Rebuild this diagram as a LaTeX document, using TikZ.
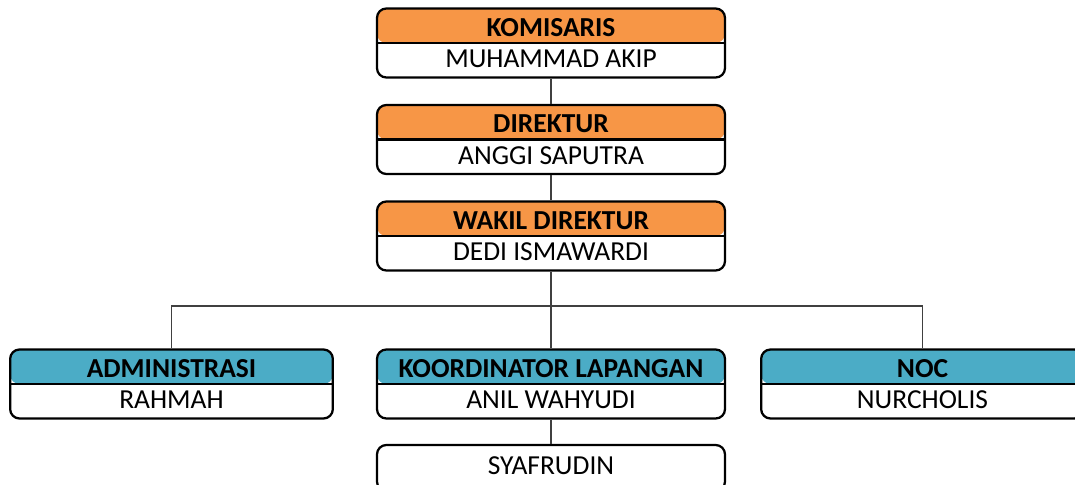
\documentclass[tikz,border=0pt]{standalone}
\usepackage{fontspec}
\setmainfont{Carlito}
\usepackage{tikz}
\definecolor{headorange}{HTML}{F79646}
\definecolor{headblue}{HTML}{4BACC6}
\tikzset{
  unit/.style={draw=black, line width=1.7pt, rounded corners=7pt, fill=white,
    inner sep=0pt, minimum height=51.75pt,
    path picture={\fill[#1] (path picture bounding box.north west) rectangle (path picture bounding box.east);
      \draw[line width=1.7pt] (path picture bounding box.west) -- (path picture bounding box.east);}},
  plain/.style={draw=black, line width=1.7pt, rounded corners=7pt, fill=white,
    inner sep=0pt, minimum height=34.5pt},
  wide/.style={minimum width=261pt},
  narrow/.style={minimum width=242pt},
  title/.style={anchor=base, font=\fontsize{20.6}{22}\selectfont\bfseries},
  person/.style={anchor=base, font=\fontsize{20.6}{22}\selectfont},
  link/.style={draw=black!75, line width=0.9pt}
}

\begin{document}
\begin{tikzpicture}[x=0.75pt,y=-0.75pt]
\useasboundingbox (0,0) rectangle (1075,485);

% boxes
\node[unit=headorange, wide] (kom) at (551,43) {};
\node[unit=headorange, wide] (dir) at (551,139.5) {};
\node[unit=headorange, wide] (wak) at (551,236) {};
\node[unit=headblue, narrow] (adm) at (171.5,384) {};
\node[unit=headblue, wide] (kor) at (551,384) {};
\node[unit=headblue, narrow] (noc) at (922.5,384) {};
\node[plain, wide] (syaf) at (551,468) {};

% texts
\node[title] (komT) at ([yshift=-21.6pt]kom.north) {KOMISARIS};
\node[person] (komN) at ([yshift=-45.2pt]kom.north) {MUHAMMAD AKIP};
\node[title] (dirT) at ([yshift=-21.6pt]dir.north) {DIREKTUR};
\node[person] (dirN) at ([yshift=-45.2pt]dir.north) {ANGGI SAPUTRA};
\node[title] (wakT) at ([yshift=-21.6pt]wak.north) {WAKIL DIREKTUR};
\node[person] (wakN) at ([yshift=-45.2pt]wak.north) {DEDI ISMAWARDI};
\node[title] (admT) at ([yshift=-21.6pt]adm.north) {ADMINISTRASI};
\node[person] (admN) at ([yshift=-45.2pt]adm.north) {RAHMAH};
\node[title] (korT) at ([yshift=-21.6pt]kor.north) {KOORDINATOR LAPANGAN};
\node[person] (korN) at ([yshift=-45.2pt]kor.north) {ANIL WAHYUDI};
\node[title] (nocT) at ([yshift=-21.6pt]noc.north) {NOC};
\node[person] (nocN) at ([yshift=-45.2pt]noc.north) {NURCHOLIS};
\node[person] (syafN) at ([yshift=-22.7pt]syaf.north) {SYAFRUDIN};

% connectors
\coordinate (hub) at (551,306);
\draw[link] (kom.south) -- (dir.north);
\draw[link] (dir.south) -- (wak.north);
\draw[link] (wak.south) -- (kor.north);
\draw[link] (adm.north) -- (adm.north |- hub) -- (noc.north |- hub) -- (noc.north);
\draw[link] (kor.south) -- (syaf.north);
\end{tikzpicture}
\end{document}
